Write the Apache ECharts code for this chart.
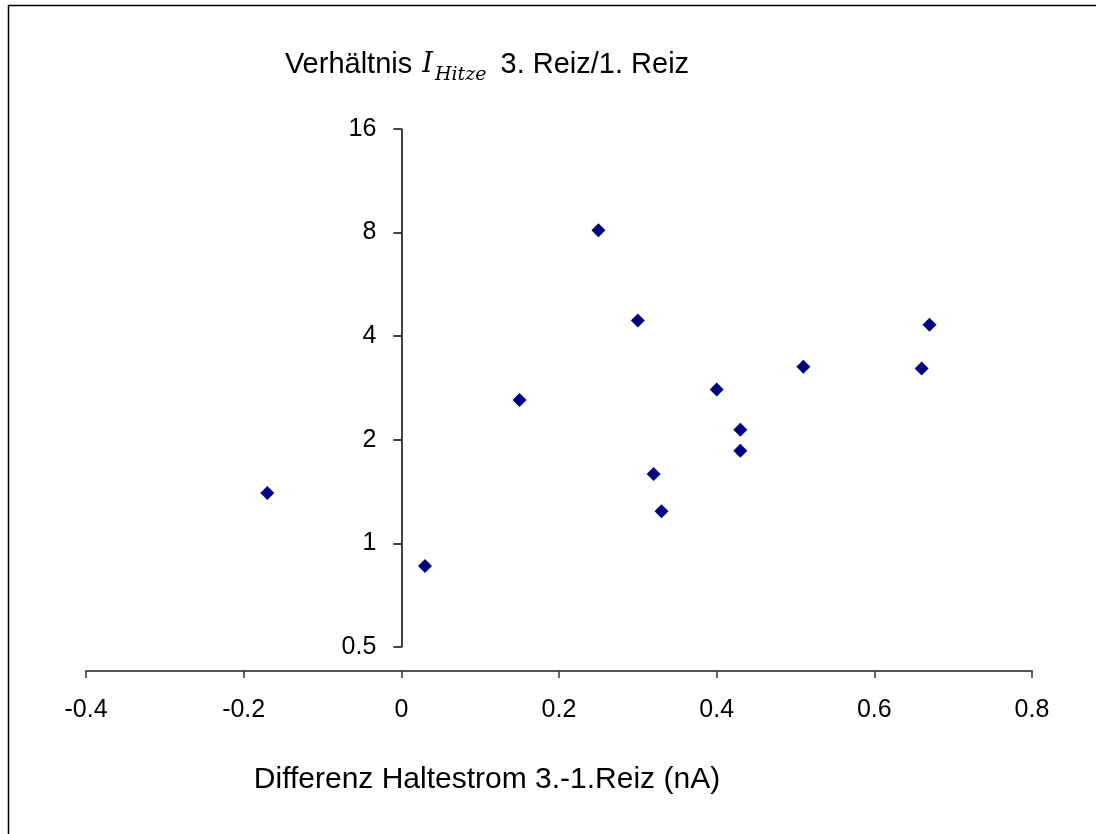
<!DOCTYPE html>
<html lang="de" style="height: 100%">
<head>
  <meta charset="utf-8">
</head>
<body style="height: 100%; margin: 0; background: #fff">
  <div id="container" style="width: 1096px; height: 834px"></div>

  <script type="text/javascript" src="https://cdn.jsdelivr.net/npm/echarts@6/dist/echarts.min.js"></script>

  <script type="text/javascript">
    // Differenz Haltestrom 3.-1. Reiz (nA)
    var xValues = [-0.17, 0.03, 0.15, 0.25, 0.30, 0.32, 0.33, 0.40, 0.43, 0.43, 0.51, 0.66, 0.67];
    // Verhältnis I_Hitze 3. Reiz / 1. Reiz
    var yValues = [1.40, 0.86, 2.61, 8.12, 4.44, 1.59, 1.24, 2.80, 2.14, 1.86, 3.26, 3.22, 4.32];

    var xTicks = [-0.4, -0.2, 0, 0.2, 0.4, 0.6, 0.8];
    var yTicks = [0.5, 1, 2, 4, 8, 16];

    var font = 'Liberation Sans';
    var mathFont = 'DejaVu Serif';

    var points = xValues.map(function (x, i) { return [x, yValues[i]]; });

    // plot area
    var gLeft = 86, gRight = 64, gTop = 129, gBottom = 187;
    var plotWidth = 1096 - gLeft - gRight;
    var xMin = xTicks[0], xMax = xTicks[xTicks.length - 1];
    // the y axis sits on x = 0, so its grid starts there
    var zeroLeft = gLeft + (0 - xMin) / (xMax - xMin) * plotWidth;

    var yAxisBase = {
      type: 'log',
      logBase: 2,
      min: yTicks[0],
      max: yTicks[yTicks.length - 1],
      splitLine: { show: false }
    };

    var dom = document.getElementById('container');
    var myChart = echarts.init(dom, null, { renderer: 'canvas' });

    var option = {
      backgroundColor: '#fff',
      animation: false,
      graphic: [
        {
          type: 'rect',
          shape: { x: 8.5, y: 5.5, width: 1200, height: 1000 },
          style: { fill: 'none', stroke: '#000', lineWidth: 1.5 }
        }
      ],
      title: [
        {
          text: 'Verhältnis {i|I}{sub|Hitze} 3. Reiz/1. Reiz',
          left: 482,
          top: 40,
          textAlign: 'center',
          textStyle: {
            fontFamily: font,
            fontSize: 29,
            fontWeight: 'normal',
            color: '#000',
            lineHeight: 40,
            rich: {
              i: { fontFamily: mathFont, fontStyle: 'italic', fontSize: 27, color: '#000', lineHeight: 40, padding: [0, 0, 0, 2] },
              sub: { fontFamily: mathFont, fontStyle: 'italic', fontSize: 19, color: '#000', lineHeight: 20, verticalAlign: 'bottom', padding: [0, 6, 0, 2] }
            }
          }
        },
        {
          text: 'Differenz Haltestrom 3.-1.Reiz (nA)',
          left: 482,
          top: 757,
          textAlign: 'center',
          textStyle: { fontFamily: font, fontSize: 30, lineHeight: 36, fontWeight: 'normal', color: '#000' }
        }
      ],
      grid: [
        { left: gLeft, right: gRight, top: gTop, bottom: gBottom },
        { left: zeroLeft, right: gRight, top: gTop, bottom: gBottom }
      ],
      xAxis: [
        {
          type: 'value',
          gridIndex: 0,
          min: xMin,
          max: xMax,
          interval: 0.2,
          offset: 24,
          axisLine: { onZero: false, lineStyle: { color: '#555', width: 2 } },
          axisTick: { show: true, length: 7, lineStyle: { color: '#333', width: 1.5 } },
          axisLabel: {
            margin: 27,
            fontFamily: font,
            fontSize: 25,
            color: '#000',
            formatter: function (v) { return String(Math.round(v * 10) / 10); }
          },
          splitLine: { show: false }
        },
        {
          type: 'value',
          gridIndex: 1,
          show: false,
          min: 0,
          max: xMax
        }
      ],
      yAxis: [
        Object.assign({}, yAxisBase, { gridIndex: 0, show: false }),
        Object.assign({}, yAxisBase, {
          gridIndex: 1,
          axisLine: { show: true, onZero: false, lineStyle: { color: '#000', width: 1.5 } },
          axisTick: { show: true, length: 8, lineStyle: { color: '#000', width: 1.5 } },
          axisLabel: {
            margin: 25,
            fontFamily: font,
            fontSize: 25,
            color: '#000',
            formatter: function (v) {
              var r = Math.round(v * 100) / 100;
              return yTicks.indexOf(r) >= 0 ? String(r) : '';
            }
          }
        })
      ],
      series: [
        {
          type: 'scatter',
          xAxisIndex: 0,
          yAxisIndex: 0,
          symbol: 'diamond',
          symbolSize: 14,
          itemStyle: { color: '#000080', opacity: 1 },
          data: points
        }
      ]
    };

    myChart.setOption(option);
    window.addEventListener('resize', myChart.resize);
  </script>
</body>
</html>
